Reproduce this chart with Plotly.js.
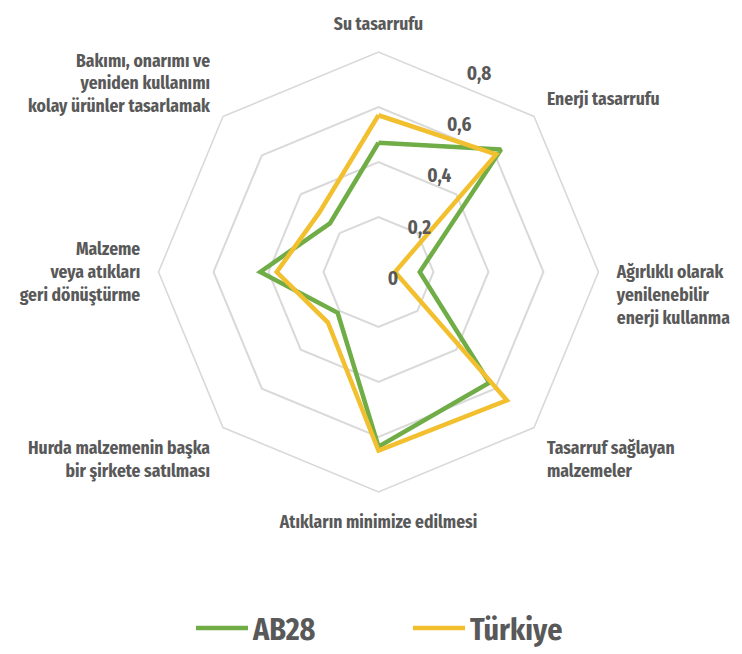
<!DOCTYPE html>
<html><head><meta charset="utf-8">
<script src="https://cdn.plot.ly/plotly-3.0.1.min.js"></script>
<style>html,body{margin:0;padding:0;background:#fff}#chart{width:742px;height:654px}</style>
</head><body><div id="chart"></div>
<script>
const categories = [
  "Su tasarrufu",
  "Enerji tasarrufu",
  "<br><br>Ağırlıklı olarak<br>yenilenebilir<br>enerji kullanma",
  "Tasarruf sağlayan<br>malzemeler",
  "Atıkların minimize edilmesi",
  "Hurda malzemenin başka<br>bir şirkete satılması",
  "Malzeme<br>veya atıkları<br>geri dönüştürme",
  "Bakımı, onarımı ve<br>yeniden kullanımı<br>kolay ürünler tasarlamak"
];
const ab28 = [0.47, 0.63, 0.15, 0.57, 0.635, 0.21, 0.43, 0.25];
const turkiye = [0.57, 0.605, 0.06, 0.66, 0.65, 0.26, 0.37, 0.305];
const radialTicks = [0, 0.2, 0.4, 0.6, 0.8];
const seriesNames = ["AB28", "Türkiye"];

const font = "'Fira Sans Condensed', 'PT Sans Narrow', 'Roboto Condensed', sans-serif";
const close = a => a.concat([a[0]]);
const cats = close(categories);

const traces = [
  {type:'scatterpolar', mode:'lines', name:seriesNames[0], r:close(ab28), theta:cats,
   line:{color:'#70AD47', width:4.5}},
  {type:'scatterpolar', mode:'lines', name:seriesNames[1], r:close(turkiye), theta:cats,
   line:{color:'#F2BF2E', width:4.5}},
  // empty trace that only hosts the radial tick-label overlay
  {type:'scatterpolar', mode:'lines', r:[], theta:[], subplot:'polar2', showlegend:false, hoverinfo:'skip'}
];

const dom = {x:[(378.5-222)/742,(378.5+222)/742], y:[1-(274.5+222)/654, 1-(274.5-222)/654]};
const layout = {
  width:742, height:654,
  margin:{l:0,r:0,t:0,b:0},
  paper_bgcolor:'#fff',
  separators:', ',
  font:{family:font, color:'#595959', size:17.5, weight:'bold'},
  showlegend:true,
  legend:{orientation:'h', x:191/742, xanchor:'left', y:1-634/654, yanchor:'middle',
    font:{size:30, family:font, color:'#595959', weight:'bold'},
    itemwidth:52, entrywidth:150, tracegroupgap:0},
  polar:{
    domain:dom,
    gridshape:'linear',
    bgcolor:'rgba(0,0,0,0)',
    radialaxis:{range:[0,0.8], tickvals:radialTicks, showticklabels:false,
      showline:false, ticks:'', gridcolor:'#d9d9d9', gridwidth:1.6},
    angularaxis:{rotation:90, direction:'clockwise', showgrid:false,
      showline:true, linecolor:'#d9d9d9', linewidth:1.6,
      ticks:'outside', ticklen:14, tickcolor:'rgba(0,0,0,0)',
      tickfont:{size:17.5, family:font, color:'#595959', weight:'bold'}}
  },
  polar2:{
    domain:dom,
    gridshape:'circular',
    bgcolor:'rgba(0,0,0,0)',
    radialaxis:{range:[0,0.8], tickvals:radialTicks, tickformat:'.1~f',
      showgrid:false, showline:false, ticks:'',
      angle:69, tickangle:69, side:'clockwise',
      tickfont:{size:19, family:font, color:'#595959', weight:'bold'}},
    angularaxis:{visible:false, showgrid:false, showline:false, rotation:90, direction:'clockwise'}
  }
};
Plotly.newPlot('chart', traces, layout, {displayModeBar:false});
</script></body></html>
